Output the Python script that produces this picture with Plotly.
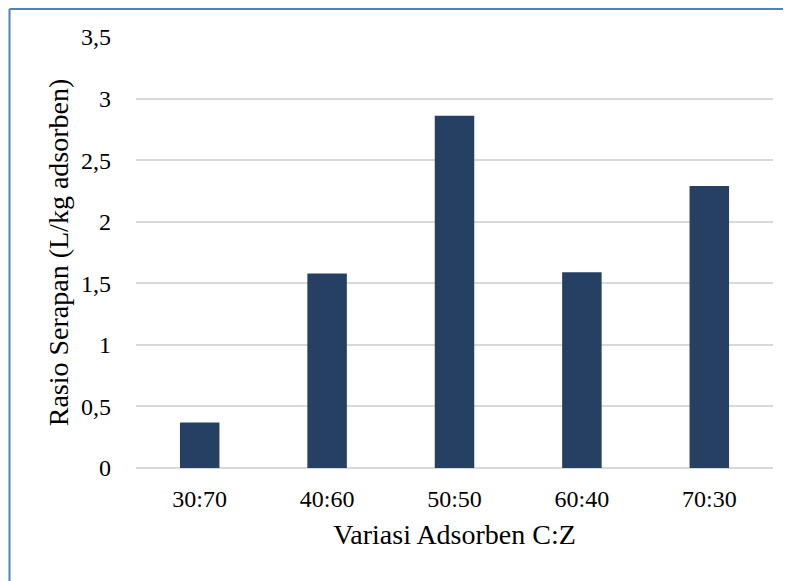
import plotly.graph_objects as go

categories = ["30:70", "40:60", "50:50", "60:40", "70:30"]
values = [0.37, 1.58, 2.86, 1.59, 2.29]
y_ticks = [0, 0.5, 1, 1.5, 2, 2.5, 3, 3.5]

FONT = "Liberation Serif"

fig = go.Figure(go.Bar(x=categories, y=values, marker=dict(color="#264064", line=dict(width=0))))

# page has an 8px body margin; figure sized to fill the remaining window
W, H = 783, 573
L, R, T, B = 128, 18, 29, 113
pw, ph = W - L - R, H - T - B

bx = (1.5 - L) / pw
by = 1 + (T - 1.0) / ph
fig.add_shape(type="line", xref="paper", yref="paper", x0=bx, x1=(W - L) / pw + 0.01, y0=by, y1=by,
              line=dict(color="#4F81BD", width=2))
fig.add_shape(type="line", xref="paper", yref="paper", x0=bx, x1=bx, y0=by, y1=-(B + 5) / ph,
              line=dict(color="#4F81BD", width=2))

fig.update_layout(
    width=W, height=H,
    margin=dict(l=L, r=R, t=T, b=B),
    paper_bgcolor="white", plot_bgcolor="white",
    separators=",.",
    bargap=0.69,
    font=dict(family=FONT, size=24, color="#000000"),
    showlegend=False,
    xaxis=dict(title=dict(text="Variasi Adsorben C:Z", font=dict(size=28), standoff=13),
               showline=False, ticks="", tickfont=dict(size=24), ticklabelstandoff=14),
    yaxis=dict(title=dict(text="Rasio Serapan (L/kg adsorben)", font=dict(size=28), standoff=4),
               range=[0, 3.5], tickvals=y_ticks, showgrid=True, gridcolor="#D9D9D9", gridwidth=1.5,
               zeroline=True, zerolinecolor="#D9D9D9", zerolinewidth=1.5,
               ticks="", ticklabelstandoff=24, tickfont=dict(size=24)),
)

fig.write_html("out.html")
